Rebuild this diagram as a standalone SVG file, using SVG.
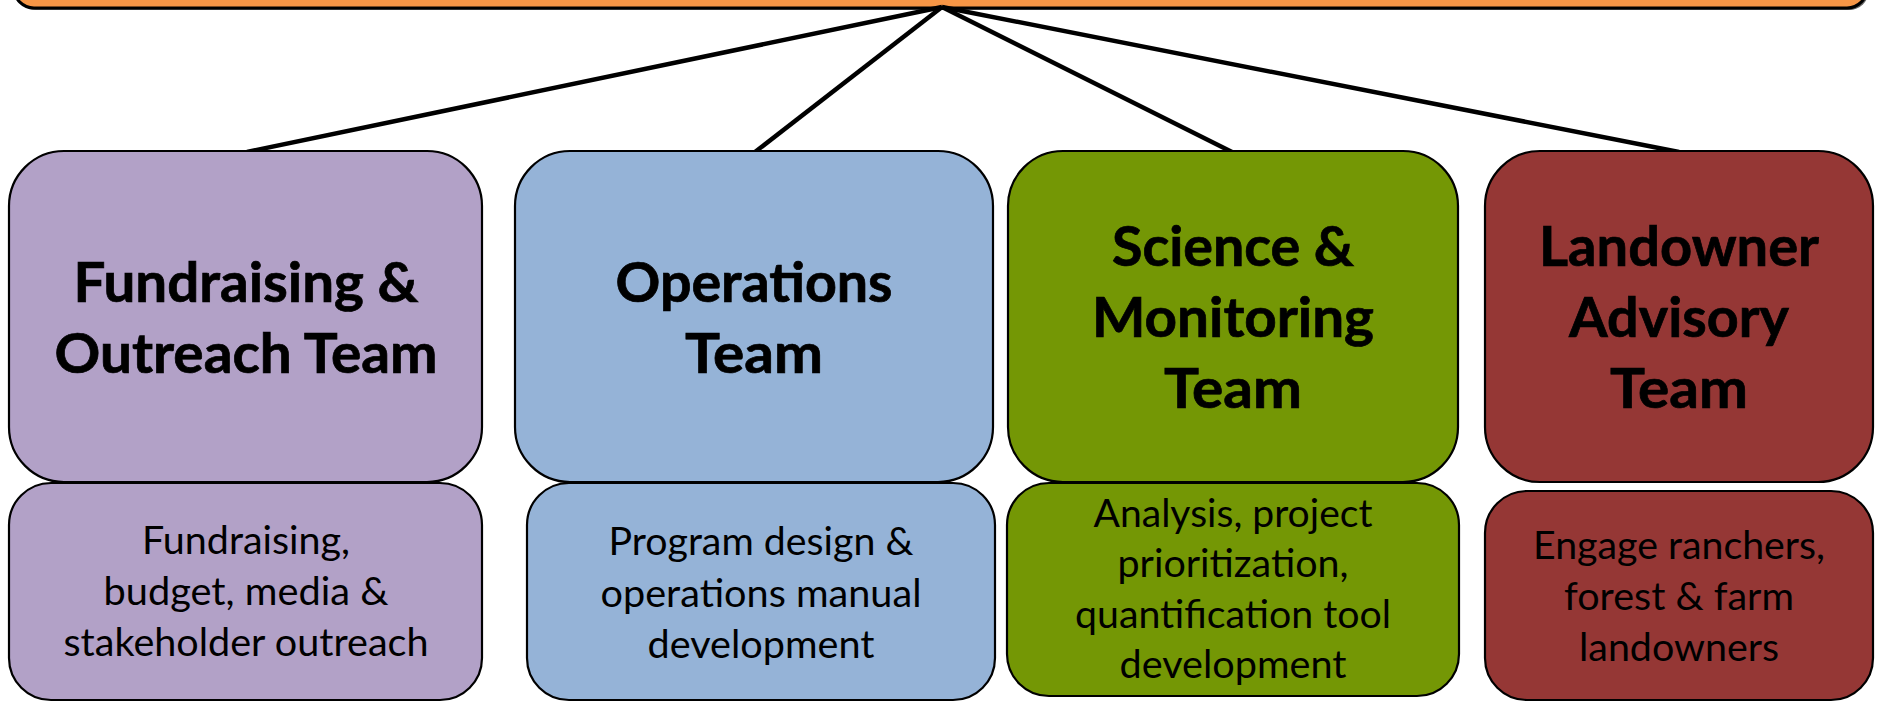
<svg xmlns="http://www.w3.org/2000/svg" width="1879" height="702" viewBox="0 0 1879 702">
<style>
.box{stroke:#000;stroke-width:2.2}
.t{font-family:Lato,"Open Sans","Liberation Sans",sans-serif;font-weight:bold;font-size:55px;fill:#000;stroke:#000;stroke-width:0.7;text-anchor:middle}
.s{font-family:Lato,"Open Sans","Liberation Sans",sans-serif;font-size:38px;fill:#000;text-anchor:middle}
.con{stroke:#000;stroke-width:4.5;fill:none;stroke-linecap:butt}
.purple{fill:#B2A1C7}.blue{fill:#95B3D7}.green{fill:#749705}.red{fill:#953735}
</style>
<rect width="1879" height="702" fill="#fff"/>
<g id="root">
<rect x="16" y="-100" width="1853" height="110" rx="20" fill="#000" opacity="0.6"/>
<rect x="14" y="-100" width="1853" height="108" rx="20" fill="#F79646" stroke="#000" stroke-width="3"/>
</g>
<g id="connectors">
<line class="con" x1="942" y1="7" x2="247" y2="152"/>
<line class="con" x1="942" y1="7" x2="755" y2="152"/>
<line class="con" x1="942" y1="7" x2="1232" y2="152"/>
<line class="con" x1="942" y1="7" x2="1679" y2="152"/>
</g>
<g id="fundraising-team">
<rect class="box purple" x="9" y="151" width="473" height="331" rx="55"/>
<text class="t" x="246" y="302" textLength="345" lengthAdjust="spacingAndGlyphs">Fundraising &amp;</text>
<text class="t" x="246" y="373" textLength="383" lengthAdjust="spacingAndGlyphs">Outreach Team</text>
</g>
<g id="fundraising-desc">
<rect class="box purple" x="9" y="483" width="473" height="217" rx="42"/>
<text class="s" x="246" y="554" textLength="208" lengthAdjust="spacingAndGlyphs">Fundraising,</text>
<text class="s" x="246" y="605" textLength="285" lengthAdjust="spacingAndGlyphs">budget, media &amp;</text>
<text class="s" x="246" y="656" textLength="365" lengthAdjust="spacingAndGlyphs">stakeholder outreach</text>
</g>
<g id="operations-team">
<rect class="box blue" x="515" y="151" width="478" height="331" rx="55"/>
<text class="t" x="754" y="302" textLength="277" lengthAdjust="spacingAndGlyphs">Operations</text>
<text class="t" x="754" y="373" textLength="138" lengthAdjust="spacingAndGlyphs">Team</text>
</g>
<g id="operations-desc">
<rect class="box blue" x="527" y="483" width="468" height="217" rx="42"/>
<text class="s" x="761" y="555" textLength="305" lengthAdjust="spacingAndGlyphs">Program design &amp;</text>
<text class="s" x="761" y="607" textLength="321" lengthAdjust="spacingAndGlyphs">operations manual</text>
<text class="s" x="761" y="658" textLength="227" lengthAdjust="spacingAndGlyphs">development</text>
</g>
<g id="science-team">
<rect class="box green" x="1008" y="151" width="450" height="331" rx="55"/>
<text class="t" x="1233" y="266" textLength="242" lengthAdjust="spacingAndGlyphs">Science &amp;</text>
<text class="t" x="1233" y="337" textLength="282" lengthAdjust="spacingAndGlyphs">Monitoring</text>
<text class="t" x="1233" y="408" textLength="138" lengthAdjust="spacingAndGlyphs">Team</text>
</g>
<g id="science-desc">
<rect class="box green" x="1007" y="483" width="452" height="213" rx="42"/>
<text class="s" x="1233" y="527" textLength="279" lengthAdjust="spacingAndGlyphs">Analysis, project</text>
<text class="s" x="1233" y="577" textLength="231" lengthAdjust="spacingAndGlyphs">prioritization,</text>
<text class="s" x="1233" y="628" textLength="316" lengthAdjust="spacingAndGlyphs">quantification tool</text>
<text class="s" x="1233" y="678" textLength="227" lengthAdjust="spacingAndGlyphs">development</text>
</g>
<g id="landowner-team">
<rect class="box red" x="1485" y="151" width="388" height="331" rx="55"/>
<text class="t" x="1679" y="266" textLength="280" lengthAdjust="spacingAndGlyphs">Landowner</text>
<text class="t" x="1679" y="337" textLength="220" lengthAdjust="spacingAndGlyphs">Advisory</text>
<text class="t" x="1679" y="408" textLength="138" lengthAdjust="spacingAndGlyphs">Team</text>
</g>
<g id="landowner-desc">
<rect class="box red" x="1485" y="491" width="388" height="209" rx="42"/>
<text class="s" x="1679" y="559" textLength="292" lengthAdjust="spacingAndGlyphs">Engage ranchers,</text>
<text class="s" x="1679" y="610" textLength="230" lengthAdjust="spacingAndGlyphs">forest &amp; farm</text>
<text class="s" x="1679" y="661" textLength="200" lengthAdjust="spacingAndGlyphs">landowners</text>
</g>
</svg>
